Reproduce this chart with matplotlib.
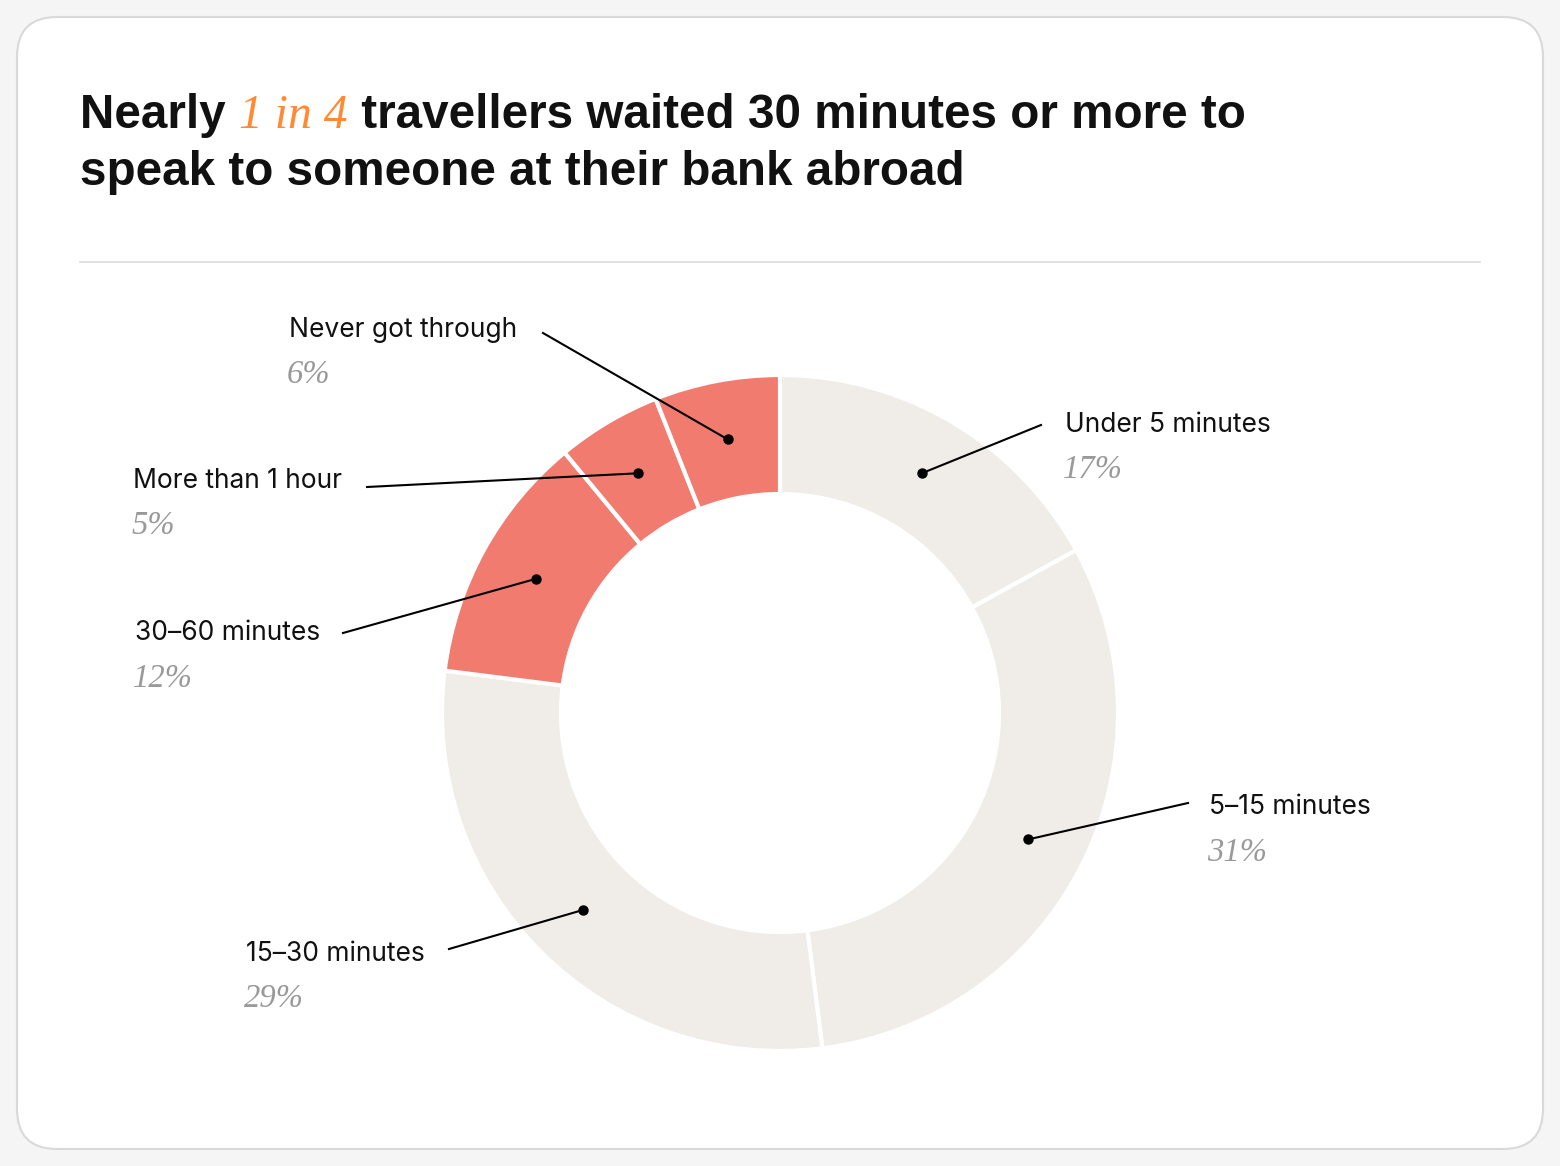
import matplotlib
matplotlib.use("Agg")
import matplotlib.pyplot as plt
from matplotlib.patches import FancyBboxPatch
import numpy as np

# ---- data ----
categories = ["Under 5 minutes", "5–15 minutes", "15–30 minutes",
              "30–60 minutes", "More than 1 hour", "Never got through"]
values = [17, 31, 29, 12, 5, 6]
pct_labels = ["17%", "31%", "29%", "12%", "5%", "6%"]
highlight = [False, False, False, True, True, True]

# ---- style ----
W, H = 1560, 1166
BG = "#f5f5f5"
CARD = "#ffffff"
BEIGE = "#f0ede8"
SALMON = "#f27b70"
ORANGE = "#ff8a33"
GREY = "#999999"
SANS = ["Liberation Sans", "DejaVu Sans"]
LABEL_SANS = ["Inter", "Liberation Sans", "DejaVu Sans"]
SERIF = ["Liberation Serif", "DejaVu Serif"]

fig = plt.figure(figsize=(W / 100, H / 100), dpi=100, facecolor=BG)
ax = fig.add_axes([0, 0, 1, 1])
ax.set_xlim(0, W)
ax.set_ylim(0, H)
ax.axis("off")


def Y(y):
    return H - y


# card
card = FancyBboxPatch((17, Y(1149)), 1526, 1132,
                      boxstyle="round,pad=0,rounding_size=40",
                      facecolor=CARD, edgecolor="#d9d9d9", linewidth=1.5, zorder=0)
ax.add_patch(card)

# divider
ax.plot([80, 1480], [Y(262), Y(262)], color="#dedede", lw=1.3, zorder=1)

# ---- title with mixed styles ----
renderer = fig.canvas.get_renderer()
title_size = 34.3
pieces = [("Nearly ", dict(family=SANS, weight="bold", color="#111111")),
          ("1 in 4", dict(family=SERIF, style="italic", color=ORANGE)),
          (" travellers waited 30 minutes or more to", dict(family=SANS, weight="bold", color="#111111"))]
x = 80
for txt, kw in pieces:
    t = ax.text(x, Y(128), txt, fontsize=title_size, va="baseline", ha="left",
                transform=ax.transData, zorder=5, **kw)
    bb = t.get_window_extent(renderer=renderer)
    x += bb.width
ax.text(80, Y(185), "speak to someone at their bank abroad", fontsize=title_size,
        va="baseline", ha="left", family=SANS, weight="bold", color="#111111", zorder=5)

# ---- donut ----
cx, cy = 780, Y(713)
R_out, ring = 338, 119
colors = [SALMON if h else BEIGE for h in highlight]
ax.pie(values, startangle=90, counterclock=False, radius=R_out, center=(cx, cy),
       colors=colors, wedgeprops=dict(width=ring, edgecolor="white", linewidth=3),
       frame=True)
ax.set_xlim(0, W)
ax.set_ylim(0, H)
ax.set_aspect("equal")
ax.axis("off")

# ---- labels with leader lines ----
# (line end x, line end y, text x, label center y, pct center y)
layout = [
    (1041, 425, 1065, 425, 467),
    (1188, 803, 1209, 807, 850),
    (449, 949, 246, 954, 996),
    (343, 633, 135, 633, 676),
    (367, 487, 133, 481, 523),
    (543, 333, 289, 330, 372),
]
total = float(sum(values))
cum = np.cumsum([0] + values)
r_mid = R_out - ring / 2
for i, (cat, pct) in enumerate(zip(categories, pct_labels)):
    mid = (cum[i] + values[i] / 2) / total
    ang = np.deg2rad(90 - 360 * mid)
    dx, dy = cx + r_mid * np.cos(ang), cy + r_mid * np.sin(ang)
    lx, ly, tx, ty, py = layout[i]
    ax.plot([dx, lx], [dy, Y(ly)], color="black", lw=1.5, zorder=6)
    ax.plot([dx], [dy], "o", color="black", ms=6.5, zorder=7)
    ax.text(tx, Y(ty), cat, fontsize=19, family=LABEL_SANS, color="#111111",
            ha="left", va="center", zorder=7)
    ax.text(tx - 2, Y(py + 3), pct, fontsize=23.5, family=SERIF, style="italic",
            color=GREY, ha="left", va="center", zorder=7)

fig.savefig("out.png", dpi=100, facecolor=BG)
